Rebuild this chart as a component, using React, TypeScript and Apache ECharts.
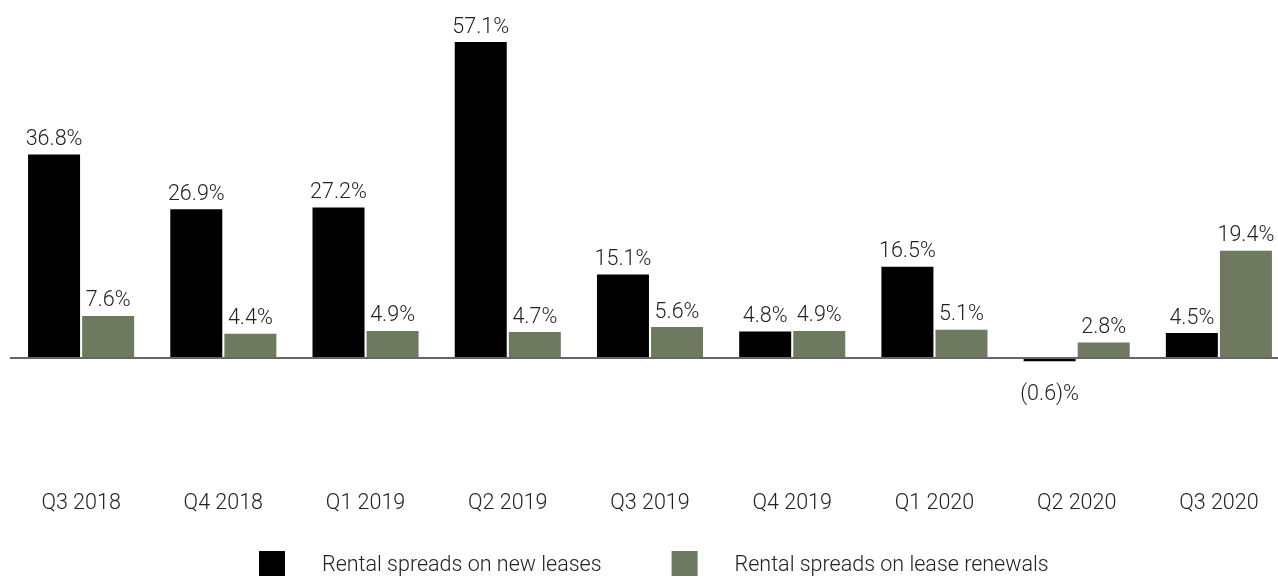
import React, { useEffect, useRef } from "react";
import * as echarts from "echarts";

const categories = ["Q3 2018", "Q4 2018", "Q1 2019", "Q2 2019", "Q3 2019", "Q4 2019", "Q1 2020", "Q2 2020", "Q3 2020"];
const newLeases = [36.8, 26.9, 27.2, 57.1, 15.1, 4.8, 16.5, -0.6, 4.5];
const renewals = [7.6, 4.4, 4.9, 4.7, 5.6, 4.9, 5.1, 2.8, 19.4];
const seriesNames = ["Rental spreads on new leases", "Rental spreads on lease renewals"];

const FONT = "Roboto";
const FS = 21.5;

function fmt(v: number): string {
  return v < 0 ? `(${Math.abs(v).toFixed(1)})%` : `${v.toFixed(1)}%`;
}

export default function App() {
  const ref = useRef<HTMLDivElement>(null);
  useEffect(() => {
    if (!ref.current) return;
    const chart = echarts.init(ref.current, null, { renderer: "svg" });
    const labelStyle = {
      show: true,
      fontFamily: FONT,
      fontWeight: 300,
      fontSize: FS,
      color: "#222",
      distance: 5,
      formatter: (p: any) => fmt(p.value),
    };
    chart.setOption({
      animation: false,
      textStyle: { fontFamily: FONT },
      grid: { left: 10, top: 26, width: 1280, height: 442.7, containLabel: false, outerBoundsMode: "none" },
      xAxis: {
        type: "category",
        data: categories,
        axisLine: { show: false, onZero: false },
        axisTick: { show: false },
        axisLabel: { margin: 22, fontFamily: FONT, fontWeight: 300, fontSize: FS, color: "#222" },
      },
      yAxis: { type: "value", min: -20, max: 60, show: false, splitLine: { show: false } },
      legend: {
        left: 254,
        top: 546,
        itemWidth: 26,
        itemHeight: 25,
        itemGap: 70,
        icon: "rect",
        textStyle: { fontFamily: FONT, fontWeight: 300, fontSize: FS, color: "#222", padding: [0, 0, 0, 32] },
        data: seriesNames,
      },
      series: [
        {
          name: seriesNames[0],
          type: "bar",
          data: newLeases.map((v) => ({
            value: v,
            label: { position: v < 0 ? "bottom" : "top", distance: v < 0 ? 20 : 6 },
          })),
          itemStyle: { color: "#000" },
          barWidth: 52,
          barGap: "4%",
          label: labelStyle,
          markLine: {
            silent: true,
            symbol: "none",
            label: { show: false },
            lineStyle: { color: "#666", width: 2, type: "solid" },
            data: [{ yAxis: 0 }],
          },
        },
        {
          name: seriesNames[1],
          type: "bar",
          data: renewals,
          itemStyle: { color: "#6d7a60" },
          barWidth: 52,
          label: { ...labelStyle, position: "top", distance: 6 },
        },
      ],
    });
    return () => chart.dispose();
  }, []);
  return <div ref={ref} style={{ position: "fixed", left: 0, top: 0, width: 1278, height: 577 }} />;
}
